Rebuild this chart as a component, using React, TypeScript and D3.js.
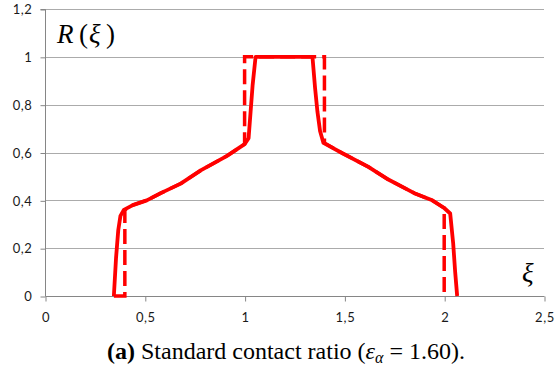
import React, { useEffect, useRef } from 'react'
import * as d3 from 'd3'

// Solid curve R(xi)
const solidXi = [0.345, 0.356, 0.367, 0.378, 0.395, 0.44, 0.51, 0.58, 0.68, 0.78, 0.91, 1.0, 1.02, 1.03, 1.04, 1.055, 1.34, 1.353, 1.365, 1.378, 1.395, 1.49, 1.62, 1.72, 1.85, 1.94, 2.0, 2.03, 2.045, 2.055, 2.065]
const solidR = [0, 0.16, 0.275, 0.335, 0.36, 0.38, 0.4, 0.43, 0.47, 0.525, 0.585, 0.635, 0.66, 0.77, 0.88, 1.0, 1.0, 0.87, 0.77, 0.69, 0.64, 0.597, 0.54, 0.487, 0.43, 0.4, 0.368, 0.345, 0.22, 0.1, 0]

// Dashed (ideal) curve - sloped parts coincide with the solid one
const dashedXi = [0.345, 0.4, 0.4, 0.44, 0.51, 0.58, 0.68, 0.78, 0.91, 1.0, 1.0, 1.4, 1.4, 1.49, 1.62, 1.72, 1.85, 1.94, 2.0, 2.0]
const dashedR = [0, 0, 0.36, 0.38, 0.4, 0.43, 0.47, 0.525, 0.585, 0.635, 1.0, 1.0, 0.64, 0.597, 0.54, 0.487, 0.43, 0.4, 0.368, 0]

const xTicks = [0, 0.5, 1, 1.5, 2, 2.5]
const yTicks = [0, 0.2, 0.4, 0.6, 0.8, 1, 1.2]

const fmt = (v: number) => String(Math.round(v * 10) / 10).replace('.', ',')

const SERIF = "'Liberation Serif', 'Times New Roman', Tinos, 'DejaVu Serif', serif"

export default function App() {
  const svgRef = useRef<SVGSVGElement>(null)

  useEffect(() => {
    if (!svgRef.current) return
    const svg = d3.select(svgRef.current)
    svg.selectAll('*').remove()

    const x = d3.scaleLinear().domain([0, 2.5]).range([45, 544])
    const y = d3.scaleLinear().domain([0, 1.2]).range([296, 9])

    const gridColor = '#ababab'
    const axisColor = '#868686'
    const tickFont = 'Lato, "Open Sans", sans-serif'

    // horizontal gridlines
    svg.append('g')
      .selectAll('line')
      .data(yTicks.filter(d => d > 0))
      .enter()
      .append('line')
      .attr('x1', x(0))
      .attr('x2', x(2.5))
      .attr('y1', d => Math.round(y(d)) + 0.5)
      .attr('y2', d => Math.round(y(d)) + 0.5)
      .attr('stroke', gridColor)
      .attr('stroke-width', 1)

    // y axis
    const yAxis = d3.axisLeft(y).tickValues(yTicks).tickSize(5).tickPadding(8).tickFormat(d => fmt(+d))
    const gy = svg.append('g').attr('transform', `translate(${x(0) + 0.5},0.5)`).call(yAxis)
    gy.select('.domain').attr('stroke', axisColor).attr('d', `M-5,${y(1.2)}H0V${y(0)}`)
    gy.selectAll('.tick line').attr('stroke', axisColor)
    gy.selectAll('.tick text')
      .style('font-family', tickFont)
      .style('font-size', '13px')
      .style('letter-spacing', '0.6px')
      .attr('fill', '#1a1a1a')

    // x axis
    const xAxis = d3.axisBottom(x).tickValues(xTicks).tickSize(5).tickPadding(11).tickFormat(d => fmt(+d))
    const gx = svg.append('g').attr('transform', `translate(0.5,${Math.round(y(0)) + 0.5})`).call(xAxis)
    gx.select('.domain').attr('stroke', axisColor).attr('d', `M${x(0)},0H${x(2.5)}`)
    gx.selectAll('.tick line').attr('stroke', axisColor)
    gx.selectAll('.tick text')
      .style('font-family', tickFont)
      .style('font-size', '13px')
      .style('letter-spacing', '0.6px')
      .attr('fill', '#1a1a1a')

    const dashedPts: [number, number][] = dashedXi.map((v, i) => [x(v), y(dashedR[i])])
    const solidPts: [number, number][] = solidXi.map((v, i) => [x(v), y(solidR[i])])
    const path = d3.line()

    svg.append('path')
      .attr('d', path(dashedPts))
      .attr('fill', 'none')
      .attr('stroke', '#ff0000')
      .attr('stroke-width', 3.5)
      .attr('stroke-dasharray', '15,6')

    svg.append('path')
      .attr('d', path(solidPts))
      .attr('fill', 'none')
      .attr('stroke', '#ff0000')
      .attr('stroke-width', 3.8)
      .attr('stroke-linejoin', 'round')

    // R(xi) label
    const rl = svg.append('text')
      .attr('y', 43)
      .attr('font-family', SERIF)
      .attr('font-size', 27)
      .attr('fill', '#000')
    rl.append('tspan').attr('x', 57).attr('font-style', 'italic').text('R')
    rl.append('tspan').attr('x', 79).text('(')
    rl.append('tspan').attr('x', 89).attr('font-style', 'italic').text('ξ')
    rl.append('tspan').attr('x', 106).text(')')

    // xi label on x axis
    svg.append('text')
      .attr('x', 522)
      .attr('y', 282)
      .attr('font-family', SERIF)
      .attr('font-size', 27)
      .attr('font-style', 'italic')
      .attr('fill', '#000')
      .text('ξ')

    // caption
    const cap = svg.append('text')
      .attr('x', 107)
      .attr('y', 359)
      .attr('font-family', SERIF)
      .attr('font-size', 24)
      .attr('fill', '#000')
    cap.append('tspan').attr('font-weight', 'bold').text('(a)')
    cap.append('tspan').text(' Standard contact ratio (')
    cap.append('tspan').attr('font-style', 'italic').text('ε')
    cap.append('tspan').attr('font-style', 'italic').attr('font-size', 16).attr('dy', 4).text('α')
    cap.append('tspan').attr('dy', -4).text(' = 1.60).')
  }, [])

  return (
    <svg
      ref={svgRef}
      width={555}
      height={371}
      style={{ position: 'absolute', left: 0, top: 0, background: '#fff' }}
    />
  )
}
